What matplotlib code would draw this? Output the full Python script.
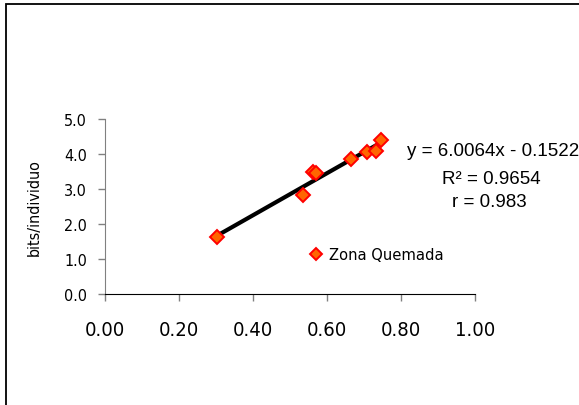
import matplotlib
matplotlib.use("Agg")
import matplotlib.pyplot as plt
from matplotlib.patches import Rectangle
from matplotlib import font_manager
import numpy as np

# Data: proportion vs. diversity (bits/individuo), burned zone
x_vals = [0.303, 0.535, 0.562, 0.570, 0.665, 0.708, 0.732, 0.746]
y_vals = [1.63, 2.83, 3.49, 3.45, 3.86, 4.06, 4.09, 4.40]
series_name = "Zona Quemada"
slope = 6.0064
intercept = -0.1522
r_squared = 0.9654
r_value = 0.983
x_ticks = [0.0, 0.2, 0.4, 0.6, 0.8, 1.0]
y_ticks = [0.0, 1.0, 2.0, 3.0, 4.0, 5.0]

# pick a condensed face when one is installed
cond = [f for f in font_manager.fontManager.ttflist
        if f.stretch in ("condensed", "semi-condensed", 600, 700, 750)
        and f.style == "normal" and f.weight in ("normal", 400, "regular")]
if cond:
    narrow = font_manager.FontProperties(fname=cond[0].fname)
else:
    narrow = font_manager.FontProperties(family="Liberation Sans")
regular = "Liberation Sans"


def nfont(size):
    p = narrow.copy()
    p.set_size(size)
    return p


fig = plt.figure(figsize=(5.79, 4.06), dpi=100)
W, H = 579, 406

# outer chart frame (right side runs past the image edge)
fig.patches.append(Rectangle((6 / W, -0.05), 1.0, (406 - 5) / H + 0.05,
                             transform=fig.transFigure, fill=False,
                             edgecolor="black", linewidth=1.3))

ax = fig.add_axes([105 / W, 1 - 295 / H, 370 / W, 175 / H])
ax.set_xlim(0, 1)
ax.set_ylim(0, 5)
ax.set_xticks(x_ticks)
ax.set_yticks(y_ticks)
ax.set_xticklabels([f"{v:.2f}" for v in x_ticks], fontproperties=nfont(14.5))
ax.set_yticklabels([f"{v:.1f}" for v in y_ticks], fontproperties=nfont(11.5))
for s in ("top", "right"):
    ax.spines[s].set_visible(False)
ax.spines["left"].set_color("#808080")
ax.spines["bottom"].set_color("black")
ax.tick_params(axis="y", direction="out", length=5, width=1, color="#808080", pad=8)
ax.tick_params(axis="x", direction="out", length=5, width=1, color="#808080", pad=14)
ax.set_ylabel("bits/individuo", fontproperties=nfont(11.5), labelpad=16)

# trend line from the fitted equation
xs = np.array([min(x_vals), max(x_vals)])
ax.plot(xs, slope * xs + intercept, color="black", linewidth=3.0, zorder=3,
        solid_capstyle="butt")

ax.plot(x_vals, y_vals, linestyle="none", marker="D", markersize=7.3,
        markerfacecolor="#FF6600", markeredgecolor="#FF0000",
        markeredgewidth=1.4, label=series_name, zorder=4, clip_on=False)

leg = ax.legend(frameon=False, loc="center left",
                bbox_to_anchor=(300 / W, 1 - 256 / H),
                bbox_transform=fig.transFigure,
                handlelength=1.0, handletextpad=0.25, borderpad=0,
                markerscale=0.85, prop=nfont(11.8))

fig.text(493 / W, 1 - 152 / H, f"y = {slope:.4f}x - {abs(intercept):.4f}",
         ha="center", va="center", fontfamily=regular, fontsize=13.5)
fig.text(491 / W, 1 - 180 / H, f"R\u00b2 = {r_squared:.4f}",
         ha="center", va="center", fontfamily=regular, fontsize=13.5)
fig.text(489 / W, 1 - 203 / H, f"r = {r_value:.3f}",
         ha="center", va="center", fontfamily=regular, fontsize=13.5)

fig.savefig("out.png", dpi=100)
